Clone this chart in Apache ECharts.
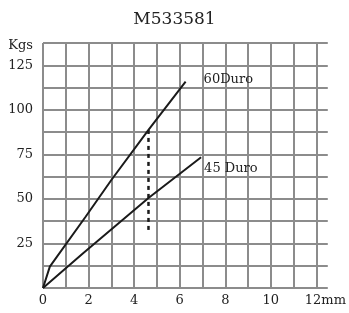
<!DOCTYPE html>
<html><head><meta charset="utf-8">
<script src="https://cdn.jsdelivr.net/npm/echarts@6/dist/echarts.min.js"></script>
<style>html,body{margin:0;padding:0;background:#fff}#c{width:349px;height:313px}</style>
</head><body><div id="c"></div>
<script>
var titleText = 'M533581';
var duro60X = [0, 0.3, 1.87, 3, 4.63, 6.26];
var duro60Y = [0, 12, 40, 60.6, 88.7, 115.8];
var duro45X = [0, 1.76, 4.63, 6.94];
var duro45Y = [0, 19.5, 50.5, 73.4];
var markerX = [4.63, 4.63];
var markerY = [32.6, 88.7];
var seriesNames = ['60Duro', '45 Duro'];
var xUnit = 'mm';
var yUnit = 'Kgs';

function pairs(xs, ys){ return xs.map(function(x,i){ return [x, ys[i]]; }); }
var F = 'DejaVu Serif';
var chart = echarts.init(document.getElementById('c'), null, {renderer:'canvas'});
chart.setOption({
  animation:false,
  title:{text:titleText, left:'center', top:6, textStyle:{fontFamily:F, fontSize:17, fontWeight:'normal', color:'#222'}},
  grid:{left:43, right:19, top:43, bottom:25, containLabel:false},
  xAxis:{type:'value', min:0, max:12.5, interval:1,
    axisLine:{show:false}, axisTick:{show:false},
    splitLine:{show:true, showMaxLine:false, lineStyle:{color:'#8c8c8c', width:2}},
    axisLabel:{margin:6, fontFamily:F, fontSize:13, color:'#222', showMaxLabel:false,
      formatter:function(v){ if(v===12) return '{p|}12'+xUnit; return (v%2===0 && v<12)? String(v) : ''; },
      rich:{p:{width:18}}}
  },
  yAxis:{type:'value', min:0, max:137.5, interval:12.5,
    axisLine:{show:false}, axisTick:{show:false},
    splitLine:{show:true, lineStyle:{color:'#8c8c8c', width:2}},
    axisLabel:{margin:10, fontFamily:F, fontSize:13, color:'#222',
      formatter:function(v){ if(v===137.5) return '{k|'+yUnit+'}'; return (v>0 && v%25===0)? String(v) : ''; },
      rich:{k:{fontFamily:F, fontSize:13, color:'#222', padding:[6,0,0,0]}}}
  },
  series:[
    {name:seriesNames[0], type:'line', data:pairs(duro60X, duro60Y), symbol:'none', lineStyle:{color:'#1a1a1a', width:2},
      endLabel:{show:true, formatter:seriesNames[0], distance:18, offset:[0,-2], fontFamily:F, fontSize:13, color:'#222'}},
    {name:seriesNames[1], type:'line', data:pairs(duro45X, duro45Y), symbol:'none', lineStyle:{color:'#1a1a1a', width:2},
      endLabel:{show:true, formatter:seriesNames[1], distance:3, offset:[0,11], fontFamily:F, fontSize:13, color:'#222'}},
    {type:'line', data:pairs(markerX, markerY), symbol:'none', lineStyle:{color:'#1a1a1a', width:2.5, type:[4,4]}}
  ]
});
</script></body></html>
